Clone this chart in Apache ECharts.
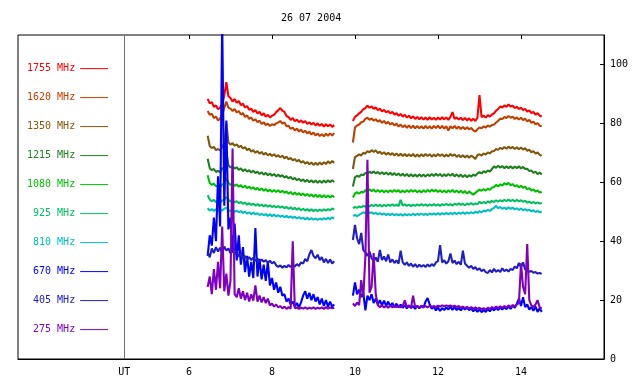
<!DOCTYPE html>
<html>
<head>
<meta charset="utf-8">
<script src="https://cdn.jsdelivr.net/npm/echarts@6/dist/echarts.min.js"></script>
<style>
html,body{margin:0;padding:0;background:#fff;}
#chart{width:640px;height:384px;}
</style>
</head>
<body>
<div id="chart"></div>
<script>
const titleText = '26 07 2004';
const utHour = 4.44;
const xTickValues = [4.44, 6, 8, 10, 12, 14];
const xTickLabels = ['UT', '6', '8', '10', '12', '14'];
const yTickValues = [0, 20, 40, 60, 80, 100];

const seriesNames = ['1755 MHz','1620 MHz','1350 MHz','1215 MHz','1080 MHz','925 MHz','810 MHz','670 MHz','405 MHz','275 MHz'];
const seriesColors = ['#ff0000','#c04000','#80580c','#208020','#00c000','#00c060','#00c0c0','#0000ff','#2020c0','#8000c0'];

const t1 = [6.45,6.5,6.55,6.6,6.65,6.7,6.75,6.8,6.85,6.9,
6.95,7,7.05,7.1,7.15,7.2,7.25,7.3,7.35,7.4,
7.45,7.5,7.55,7.6,7.65,7.7,7.75,7.8,7.85,7.9,
7.95,8,8.05,8.1,8.15,8.2,8.25,8.3,8.35,8.4,
8.45,8.5,8.55,8.6,8.65,8.7,8.75,8.8,8.85,8.9,
8.95,9,9.05,9.1,9.15,9.2,9.25,9.3,9.35,9.4,
9.45,9.5];
const t2 = [9.95,10,10.05,10.1,10.15,10.2,10.25,10.3,10.35,10.4,
10.45,10.5,10.55,10.6,10.65,10.7,10.75,10.8,10.85,10.9,
10.95,11,11.05,11.1,11.15,11.2,11.25,11.3,11.35,11.4,
11.45,11.5,11.55,11.6,11.65,11.7,11.75,11.8,11.85,11.9,
11.95,12,12.05,12.1,12.15,12.2,12.25,12.3,12.35,12.4,
12.45,12.5,12.55,12.6,12.65,12.7,12.75,12.8,12.85,12.9,
12.95,13,13.05,13.1,13.15,13.2,13.25,13.3,13.35,13.4,
13.45,13.5,13.55,13.6,13.65,13.7,13.75,13.8,13.85,13.9,
13.95,14,14.05,14.1,14.15,14.2,14.25,14.3,14.35,14.4,
14.45,14.5];

const f1755a = [88.3,86.8,87.2,85.6,86.1,84.8,85.4,86.6,89.5,94.0,
89.2,88.6,87.4,88.3,87.0,87.6,86.2,86.7,85.4,85.9,
84.6,85.0,83.9,84.5,83.4,83.9,82.8,83.4,82.3,82.9,
82.0,82.6,82.9,83.8,84.4,85.2,84.3,83.9,82.5,82.1,
81.2,81.8,80.7,81.3,80.4,81.0,80.2,80.8,79.8,80.4,
79.6,80.2,79.3,80.0,79.2,79.8,78.9,79.7,79.0,79.6,
78.8,79.4];
const f1755b = [80.8,82.2,82.7,83.4,83.9,84.8,85.2,86.0,85.3,85.8,
84.9,85.4,84.5,85.0,84.1,84.6,83.7,84.2,83.4,83.9,
83.0,83.5,82.6,83.2,82.3,82.9,82.0,82.6,81.7,82.4,
81.5,82.2,81.4,82.1,81.3,82.0,81.2,82.1,81.3,81.9,
81.2,82.0,81.3,82.1,81.4,82.0,81.2,82.2,83.8,81.5,
82.0,81.3,81.9,81.1,81.8,81.0,81.7,80.9,81.6,80.8,
81.9,89.6,82.1,82.6,82.0,82.8,82.3,83.0,83.4,84.3,
84.9,85.7,85.4,86.1,85.6,86.4,85.7,86.0,85.2,85.6,
84.9,85.3,84.5,84.9,84.0,84.4,83.5,83.9,83.0,83.5,
82.6,82.3];

const f1620a = [84.2,82.9,83.3,81.8,82.3,81.0,81.6,83.0,85.2,87.4,
85.3,85.0,84.2,84.9,83.7,84.2,83.0,83.5,82.2,82.7,
81.5,82.0,80.9,81.4,80.4,80.9,79.8,80.4,79.4,79.9,
79.1,79.7,79.4,80.0,80.3,80.8,79.9,80.3,79.0,79.2,
78.1,78.6,77.6,78.2,77.2,77.9,76.9,77.5,76.6,77.2,
76.2,76.9,75.9,76.6,75.7,76.3,75.6,76.5,75.8,76.6,
75.9,76.7];
const f1620b = [73.5,78.6,79.3,79.6,80.4,80.6,81.5,81.9,81.2,81.7,
80.9,81.4,80.6,81.1,80.2,80.8,79.9,80.5,79.6,80.2,
79.3,79.9,78.9,79.6,78.7,79.4,78.5,79.3,78.4,79.2,
78.3,79.1,78.3,79.0,78.2,79.1,78.3,79.0,78.2,79.1,
78.4,79.2,78.3,79.1,78.2,79.0,77.6,79.0,78.3,79.1,
78.2,78.9,78.1,78.8,78.0,78.7,77.9,78.5,77.6,77.2,
78.0,78.6,78.3,79.0,78.6,79.3,78.9,79.4,79.6,80.3,
80.9,81.6,81.5,82.2,81.8,82.5,81.9,82.3,81.5,82.0,
81.3,81.9,81.1,81.6,80.7,81.2,80.2,80.6,79.7,80.1,
79.2,79.0];

const f1350a = [75.8,72.3,71.6,72.0,70.9,71.3,70.8,71.9,73.3,80.0,
73.6,72.8,73.3,72.4,72.9,71.9,72.4,71.5,71.9,70.9,
71.4,70.4,70.9,70.0,70.6,69.7,70.3,69.4,70.0,69.1,
69.7,68.9,69.5,68.7,69.2,68.5,69.0,68.1,68.7,67.8,
68.3,67.4,67.9,67.1,67.6,66.7,67.2,66.3,66.9,66.1,
66.7,65.9,66.6,65.9,66.7,66.0,66.8,66.2,67.1,66.4,
67.2,66.6];
const f1350b = [64.5,68.6,68.9,69.5,69.1,70.0,69.7,70.6,70.2,70.9,
70.3,70.8,69.9,70.4,69.6,70.2,69.4,70.0,69.3,69.9,
69.1,69.8,69.0,69.7,68.9,69.6,68.8,69.5,68.8,69.6,
68.7,69.4,68.7,69.5,68.8,69.6,68.9,69.5,68.7,69.4,
68.8,69.6,68.9,69.5,68.7,69.4,68.8,69.6,68.9,69.5,
68.6,69.3,68.5,69.2,68.4,69.1,68.3,69.0,68.6,67.9,
69.2,69.5,69.1,69.8,69.4,70.1,69.8,70.5,70.6,71.3,
71.0,71.7,71.3,72.0,71.4,72.1,71.5,72.0,71.3,71.9,
71.2,71.8,71.1,71.6,70.7,71.1,70.2,70.6,69.7,70.1,
69.3,69.0];

const f1215a = [68.0,64.8,64.1,64.5,63.5,63.9,63.4,64.6,65.2,70.5,
65.8,65.0,65.5,64.6,65.1,64.2,64.7,63.8,64.4,63.6,
64.1,63.3,63.9,63.1,63.6,62.8,63.4,62.6,63.2,62.4,
63.0,62.2,62.8,62.0,62.6,61.9,62.4,61.6,62.1,61.3,
61.8,61.0,61.5,60.7,61.2,60.4,61.0,60.2,60.8,60.0,
60.7,59.9,60.6,59.8,60.5,59.8,60.6,59.9,60.7,60.0,
60.7,60.1];
const f1215b = [58.6,61.7,62.2,61.9,62.6,62.4,63.2,62.8,63.6,63.1,
63.7,63.0,63.5,62.8,63.4,62.7,63.3,62.6,63.2,62.5,
63.1,62.4,63.0,62.2,62.9,62.1,62.8,62.0,62.7,62.0,
62.6,61.9,62.7,62.0,62.6,61.9,62.7,62.1,62.8,62.1,
62.9,62.2,62.8,62.0,62.7,62.1,62.8,62.2,62.9,62.0,
62.7,61.9,62.6,61.8,62.5,61.7,62.4,61.9,62.6,62.2,
63.0,63.4,63.0,63.8,63.3,64.0,63.6,64.5,65.4,64.9,
65.6,65.0,65.5,64.8,65.4,64.8,65.4,64.7,65.3,64.8,
65.4,64.7,65.2,64.5,64.6,63.8,64.0,63.2,63.6,62.8,
63.3,62.6];

const f1080a = [62.4,59.7,59.1,59.5,58.6,59.0,58.4,59.2,59.6,61.5,
59.8,59.1,59.6,58.8,59.3,58.5,59.0,58.2,58.8,58.0,
58.5,57.8,58.3,57.5,58.1,57.3,57.9,57.1,57.7,56.9,
57.5,56.8,57.4,56.7,57.3,56.6,57.1,56.4,56.9,56.1,
56.7,55.9,56.5,55.8,56.3,55.6,56.2,55.4,56.0,55.3,
55.9,55.1,55.8,55.0,55.7,54.9,55.6,54.9,55.5,54.8,
55.5,54.9];
const f1080b = [54.8,56.2,56.6,56.1,56.8,56.5,57.3,56.9,57.6,57.0,
57.5,56.8,57.4,56.7,57.3,56.6,57.2,56.6,57.3,56.7,
57.4,56.8,57.3,56.5,57.2,56.6,57.3,56.7,57.4,56.8,
57.3,56.6,57.2,56.5,57.3,56.7,57.4,56.8,57.5,56.9,
57.4,56.7,57.3,56.6,57.2,56.5,57.3,56.7,57.4,56.6,
57.2,56.5,57.1,56.4,57.0,56.2,56.9,56.3,55.8,56.4,
57.0,57.5,57.1,57.7,57.2,57.8,57.4,58.2,58.4,59.1,
58.6,59.3,58.9,59.7,59.2,59.8,59.0,59.4,58.6,59.0,
58.3,58.8,58.1,58.5,57.6,58.0,57.2,57.6,56.8,57.2,
56.5,56.8];

const f925a = [55.6,54.1,53.6,54.0,53.3,53.7,53.2,53.8,54.1,55.0,
54.0,53.5,53.9,53.2,53.6,52.9,53.3,52.7,53.1,52.4,
52.9,52.3,52.7,52.1,52.6,52.0,52.4,51.8,52.3,51.7,
52.2,51.6,52.0,51.5,51.9,51.4,51.8,51.2,51.6,51.0,
51.5,50.9,51.3,50.7,51.2,50.5,51.0,50.4,50.9,50.3,
50.8,50.2,50.7,50.2,50.7,50.3,50.8,50.4,50.9,50.5,
51.1,50.7];
const f925b = [51.2,51.6,51.3,51.8,51.5,52.0,51.7,52.2,51.8,52.3,
51.9,52.4,51.9,52.3,51.8,52.3,51.9,52.4,52.0,52.5,
52.0,52.4,51.9,54.0,52.1,52.5,52.0,52.4,51.9,52.4,
52.0,52.5,52.1,52.6,52.1,52.5,52.0,52.5,52.1,52.6,
52.1,52.5,52.0,52.6,52.2,52.7,52.2,52.6,52.1,52.7,
52.3,52.8,52.3,52.7,52.2,52.8,52.4,52.9,52.4,52.8,
52.5,53.4,52.8,53.3,52.9,53.5,53.1,53.7,53.3,53.9,
53.4,53.9,53.5,54.0,53.6,54.1,53.6,54.0,53.5,54.0,
53.5,53.9,53.4,53.7,53.1,53.4,52.9,53.3,52.8,53.2,
52.8,53.0];

const f810a = [51.2,50.4,50.9,50.3,50.8,50.2,50.7,50.4,51.0,51.4,
50.6,50.2,50.6,50.0,50.4,49.8,50.2,49.6,50.0,49.4,
49.8,49.2,49.7,49.1,49.5,48.9,49.3,48.8,49.2,48.6,
49.1,48.5,49.0,48.4,48.8,48.3,48.7,48.1,48.6,48.0,
48.4,47.9,48.3,47.7,48.2,47.6,48.0,47.4,47.9,47.3,
47.8,47.3,47.7,47.2,47.7,47.3,47.8,47.4,47.9,47.5,
48.1,47.7];
const f810b = [48.6,48.9,48.5,48.9,49.4,49.8,49.5,50.0,49.6,49.8,
49.3,49.6,49.1,49.5,49.0,49.4,48.9,49.3,48.9,49.3,
48.8,49.2,48.8,49.2,48.7,49.2,48.8,49.2,48.8,49.3,
48.9,49.3,48.9,49.4,48.9,49.3,48.9,49.4,49.0,49.4,
49.0,49.5,49.0,49.5,49.1,49.6,49.1,49.6,49.2,49.7,
49.2,49.7,49.3,49.8,49.3,49.8,49.4,49.9,49.4,50.0,
49.6,50.2,49.8,50.4,50.1,50.6,50.3,50.9,51.3,52.0,
51.2,51.6,51.0,51.4,50.9,51.5,51.0,51.4,50.8,51.2,
50.6,51.1,50.5,50.9,50.4,50.7,50.1,50.5,49.9,50.3,
49.8,50.1];

const f670a = [35.0,42.0,38.5,48.0,40.0,62.0,45.0,115,52.0,81.0,
44.0,48.0,36.0,46.0,33.5,42.0,32.0,38.0,29.5,35.0,
28.0,33.0,27.5,44.5,28.0,34.0,27.0,32.0,26.5,33.0,
25.0,27.5,23.5,26.0,22.5,24.5,21.5,22.0,19.5,20.5,
18.5,19.5,17.8,19.0,17.5,19.2,21.5,23.0,20.5,22.5,
20.0,22.0,19.5,21.0,18.5,20.5,18.0,20.0,17.8,19.5,
17.8,18.5];
const f670b = [21.5,26.0,22.0,23.5,21.0,22.5,16.5,21.5,20.0,22.0,
19.0,20.5,18.5,20.0,18.2,19.8,18.0,19.5,17.8,19.0,
17.6,18.8,17.5,18.5,17.4,18.3,17.2,18.2,17.3,18.0,
17.0,18.1,17.2,18.0,17.4,19.5,20.7,18.5,17.0,17.8,
16.5,17.5,16.3,17.3,16.6,17.5,16.8,17.8,16.7,17.6,
16.6,17.3,16.5,17.5,16.8,17.4,16.6,17.2,16.2,17.0,
16.0,16.8,15.9,16.6,16.0,17.0,16.2,17.2,16.5,17.4,
16.6,17.5,16.8,17.6,16.9,17.8,17.0,18.2,17.4,18.8,
20.5,18.0,21.0,17.6,18.5,16.8,17.6,16.4,17.8,16.0,
17.2,16.0];

const f405a = [36.4,34.5,37.5,36.0,38.0,36.5,37.8,36.0,38.2,36.8,
37.5,36.0,37.2,35.5,36.6,34.7,35.8,34.2,35.0,33.8,
34.6,33.6,34.4,33.3,34.1,33.0,33.8,33.0,33.6,32.6,
33.4,32.5,33.0,31.8,31.3,31.8,31.0,31.6,31.1,31.9,
31.2,32.0,31.4,32.2,31.6,32.8,32.4,34.0,33.2,35.5,
37.0,35.0,34.2,35.4,33.6,34.6,32.8,34.0,32.6,33.8,
32.4,33.2];
const f405b = [40.4,45.5,41.0,39.0,42.8,37.0,36.2,35.0,36.5,34.2,
33.2,34.5,33.0,37.0,33.6,34.8,33.2,35.5,32.8,33.8,
32.6,33.5,32.4,36.8,32.8,32.0,32.8,31.6,32.4,31.3,
32.2,31.2,32.0,31.3,31.9,31.2,32.1,31.4,32.2,31.6,
32.8,33.2,38.7,32.8,33.5,32.4,33.2,35.8,32.6,33.4,
32.2,33.0,32.0,36.8,32.4,31.6,31.0,31.6,30.6,31.2,
30.2,30.8,29.8,30.4,29.5,29.2,30.2,29.4,30.6,29.6,
30.2,29.5,30.8,29.8,30.4,29.7,30.6,30.2,31.4,30.8,
32.6,31.2,32.8,30.4,30.0,29.6,29.9,29.3,29.5,29.0,
29.2,28.9];

const f275a = [24.5,28.0,22.0,30.5,23.5,33.0,24.0,45.0,23.0,29.0,
21.5,26.5,71.5,22.0,21.0,24.0,20.5,23.0,20.0,22.5,
19.5,22.0,19.8,25.0,19.5,21.5,19.2,21.0,19.0,20.5,
18.2,18.8,17.8,18.5,17.5,18.0,17.2,17.8,17.0,17.6,
17.1,40.0,17.2,17.5,17.0,17.4,17.1,17.5,17.0,17.4,
17.1,17.5,17.0,17.4,17.1,17.5,17.0,17.6,17.1,17.5,
17.2,17.4];
const f275b = [18.9,18.0,19.2,18.3,26.8,21.0,34.7,67.6,22.5,24.5,
36.0,22.0,18.3,17.6,18.2,17.5,18.0,17.4,18.1,17.5,
18.0,17.6,18.1,17.5,18.0,19.9,17.6,18.1,17.5,21.5,
17.6,18.0,17.5,18.1,17.6,18.0,17.5,18.1,17.7,18.0,
17.6,18.1,17.8,18.2,17.9,18.2,17.9,18.2,17.8,18.1,
17.6,18.0,17.4,17.8,17.3,17.7,17.2,17.6,17.1,17.5,
17.0,17.4,16.9,17.3,16.8,17.4,17.0,17.6,17.2,17.8,
17.3,17.9,17.4,18.0,17.5,18.2,17.6,18.3,17.8,18.5,
19.0,32.5,24.5,22.0,39.0,20.0,18.2,17.6,18.5,20.0,
17.5,17.2];

const segA = [f1755a,f1620a,f1350a,f1215a,f1080a,f925a,f810a,f670a,f405a,f275a];
const segB = [f1755b,f1620b,f1350b,f1215b,f1080b,f925b,f810b,f670b,f405b,f275b];

function buildData(a, b) {
  const out = t1.map((t, i) => [t, a[i]]);
  out.push([(t1[t1.length - 1] + t2[0]) / 2, '-']);
  t2.forEach((t, i) => out.push([t, b[i]]));
  return out;
}

const FONT = 'DejaVu Sans Mono';
const chart = echarts.init(document.getElementById('chart'), null, {renderer: 'canvas'});

const series = seriesNames.map((name, i) => {
  const s = {
    name: name,
    type: 'line',
    data: buildData(segA[i], segB[i]),
    showSymbol: false,
    symbol: 'none',
    connectNulls: false,
    clip: true,
    animation: false,
    lineStyle: {color: seriesColors[i], width: 2.1},
    itemStyle: {color: seriesColors[i]},
    emphasis: {disabled: true}
  };
  if (i === 0) {
    s.markLine = {
      silent: true,
      symbol: 'none',
      label: {show: false},
      animation: false,
      lineStyle: {color: '#707070', width: 1, type: 'solid'},
      data: [{xAxis: utHour}]
    };
  }
  return s;
});

const option = {
  backgroundColor: '#ffffff',
  animation: false,
  title: {
    text: titleText,
    left: 276,
    top: 8,
    textStyle: {fontFamily: FONT, fontSize: 10, fontWeight: 'normal', color: '#000'}
  },
  legend: {
    orient: 'vertical',
    left: 22,
    top: 58,
    align: 'right',
    itemWidth: 28,
    itemHeight: 14,
    itemGap: 17.8,
    selectedMode: false,
    lineStyle: {width: 1},
    itemStyle: {opacity: 0},
    formatter: n => n.padStart(8, ' '),
    textStyle: {fontFamily: FONT, fontSize: 10},
    data: seriesNames.map((n, i) => ({name: n, textStyle: {color: seriesColors[i]}}))
  },
  grid: {
    left: 18, right: 36, top: 35, bottom: 25,
    show: true, borderColor: '#000', borderWidth: 1, backgroundColor: 'transparent'
  },
  xAxis: [{
    type: 'value',
    position: 'bottom',
    min: 1.88, max: 16,
    axisLine: {show: true, lineStyle: {color: '#000', width: 1}},
    axisTick: {show: false},
    splitLine: {show: false},
    axisLabel: {
      customValues: xTickValues,
      margin: 8,
      fontFamily: FONT, fontSize: 10, color: '#000',
      formatter: v => {
        const k = xTickValues.findIndex(x => Math.abs(x - v) < 0.01);
        return k >= 0 ? xTickLabels[k] : '';
      }
    }
  }, {
    type: 'value',
    position: 'top',
    min: 1.88, max: 16,
    axisLine: {show: false},
    axisTick: {show: true, inside: true, length: 4, customValues: xTickValues.slice(1), lineStyle: {color: '#000'}},
    axisLabel: {show: false},
    splitLine: {show: false}
  }],
  yAxis: {
    type: 'value',
    position: 'right',
    min: 0, max: 110,
    axisLine: {show: true, lineStyle: {color: '#000', width: 1}},
    axisTick: {show: true, inside: true, length: 4, customValues: yTickValues, lineStyle: {color: '#000'}},
    splitLine: {show: false},
    axisLabel: {customValues: yTickValues, margin: 6, fontFamily: FONT, fontSize: 10, color: '#000'}
  },
  series: series
};
chart.setOption(option);
</script>
</body>
</html>
